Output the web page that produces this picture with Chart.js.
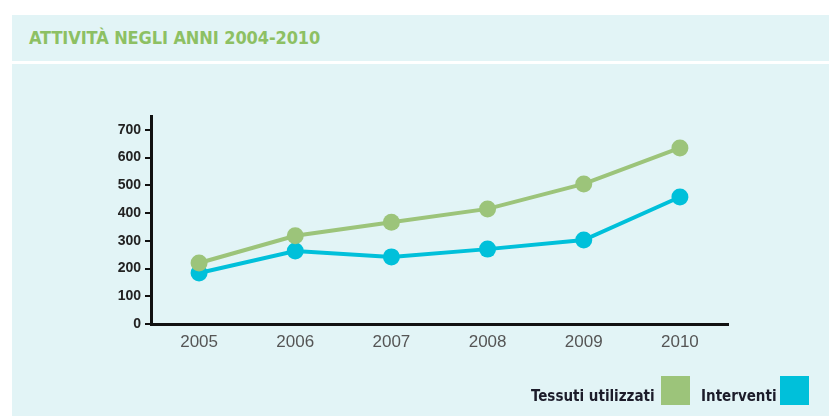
<!DOCTYPE html>
<html lang="it">
<head>
  <meta charset="UTF-8">
  <title>Attività negli anni 2004-2010</title>
  <script src="https://cdn.jsdelivr.net/npm/chart.js"></script>
  <style>
    html, body { margin: 0; padding: 0; background: #fff; }
    body { width: 829px; height: 416px; position: relative; overflow: hidden; }
    .band { position: absolute; left: 12px; right: 0; background: #e2f4f6; }
    #top { top: 15px; height: 46px; }
    #bottom { top: 64px; bottom: 0; }
    h2 {
      position: absolute; left: 29px; top: 27px; margin: 0;
      font: 600 18px "DejaVu Sans Condensed", "DejaVu Sans", sans-serif;
      color: #8dc063; letter-spacing: -0.1px;
    }
    #chartBox { position: absolute; left: 0; top: 0; width: 829px; height: 416px; }
    .legend {
      position: absolute; top: 376px; height: 29px; display: flex; align-items: flex-end;
      font: bold 15px "DejaVu Sans Condensed", "DejaVu Sans", sans-serif; color: #1c1c2a;
    }
    .legend span.sw { display: inline-block; width: 29px; height: 29px; margin-left: 6px; }
  </style>
</head>
<body>
  <div class="band" id="top"></div>
  <div class="band" id="bottom"></div>
  <h2>ATTIVITÀ NEGLI ANNI 2004-2010</h2>

  <div id="chartBox"><canvas id="activityChart" width="829" height="416"></canvas></div>

  <div class="legend" style="left:531px"><span>Tessuti utilizzati</span><span class="sw" style="background:#9cc47a"></span></div>
  <div class="legend" style="left:701px"><span>Interventi</span><span class="sw" style="background:#00c0da; margin-left:3px"></span></div>

  <script>
    const years = ['2005', '2006', '2007', '2008', '2009', '2010'];
    const tessuti = [220, 318, 367, 415, 505, 635];
    const interventi = [184, 263, 242, 270, 303, 458];
    const yTicks = [0, 100, 200, 300, 400, 500, 600, 700];

    const green = '#9cc47a';
    const blue = '#00c0da';

    new Chart(document.getElementById('activityChart'), {
      type: 'line',
      data: {
        labels: years,
        datasets: [
          {
            label: 'Tessuti utilizzati',
            data: tessuti,
            borderColor: green,
            backgroundColor: green,
            borderWidth: 4,
            pointRadius: 8.5,
            pointHoverRadius: 8.5,
            pointBorderWidth: 0,
            tension: 0
          },
          {
            label: 'Interventi',
            data: interventi,
            borderColor: blue,
            backgroundColor: blue,
            borderWidth: 4,
            pointRadius: 8.5,
            pointHoverRadius: 8.5,
            pointBorderWidth: 0,
            tension: 0
          }
        ]
      },
      options: {
        responsive: false,
        animation: false,
        layout: { padding: { left: 101, right: 101, top: 116, bottom: 0 } },
        plugins: { legend: { display: false }, tooltip: { enabled: false } },
        scales: {
          x: {
            offset: true,
            grid: { display: false, drawTicks: false },
            border: { display: true, color: '#111', width: 3 },
            ticks: { color: '#555', font: { family: 'Liberation Sans', size: 17 }, padding: 8 },
            afterFit: s => { s.height = 92; }
          },
          y: {
            min: 0,
            max: 750,
            afterBuildTicks: s => { s.ticks = yTicks.map(v => ({ value: v })); },
            grid: { drawOnChartArea: false, drawTicks: true, tickLength: 6, color: '#111', lineWidth: 2 },
            border: { display: true, color: '#111', width: 3 },
            ticks: { color: '#222', font: { family: 'Liberation Sans', size: 14, weight: 'bold' }, padding: 4 },
            afterFit: s => { s.width = 50; }
          }
        }
      }
    });
  </script>
</body>
</html>
